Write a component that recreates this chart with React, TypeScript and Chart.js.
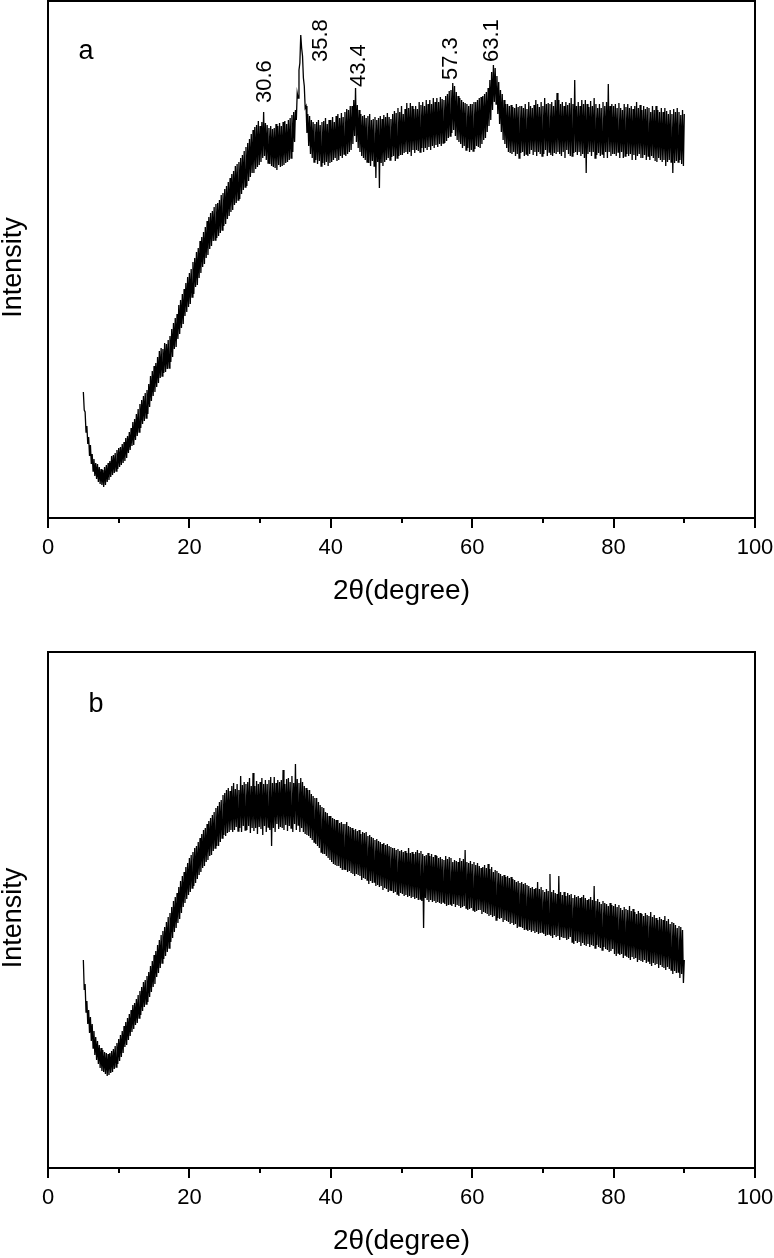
import React, { useEffect, useRef } from 'react';
import { Chart, registerables } from 'chart.js';

Chart.register(...registerables);

// 2θ grid of the scan: starts at 5°, one reading every 0.125°
const THETA_START = 5;
const THETA_STEP = 0.125;

// Panel a intensities (arbitrary units), 5° … 90°, 8 readings per degree
const intensityA = [
  126, 108, 106, 86, 92, 74, 81, 62,
  73, 54, 64, 47, 59, 42, 55, 39,
  54, 36, 51, 34, 49, 33, 48, 31,
  51, 33, 53, 36, 55, 38, 57, 41,
  62, 43, 63, 45, 65, 47, 68, 49,
  70, 51, 71, 53, 74, 55, 76, 57,
  80, 60, 82, 65, 86, 68, 90, 72,
  96, 73, 99, 78, 104, 82, 109, 86,
  114, 90, 118, 94, 122, 97, 125, 100,
  128, 104, 134, 111, 142, 117, 147, 122,
  152, 126, 155, 131, 161, 135, 167, 140,
  170, 142, 169, 145, 175, 146, 174, 149,
  178, 150, 182, 156, 189, 161, 195, 169,
  200, 171, 204, 179, 213, 184, 218, 190,
  224, 194, 229, 202, 235, 206, 241, 211,
  245, 214, 249, 221, 256, 224, 260, 231,
  266, 233, 270, 240, 277, 245, 281, 251,
  286, 254, 291, 260, 297, 263, 301, 269,
  305, 272, 307, 277, 311, 278, 314, 280,
  315, 282, 318, 285, 323, 288, 325, 292,
  329, 294, 332, 299, 336, 302, 340, 306,
  344, 308, 347, 313, 352, 315, 354, 318,
  356, 319, 360, 324, 363, 328, 367, 331,
  371, 332, 375, 337, 379, 341, 384, 345,
  388, 345, 391, 349, 393, 351, 397, 353,
  392, 356, 396, 360, 406, 362, 395, 358,
  393, 355, 390, 354, 392, 352, 389, 351,
  390, 350, 394, 348, 392, 353, 395, 351,
  392, 352, 396, 353, 397, 355, 394, 356,
  398, 358, 400, 360, 403, 366, 406, 376,
  408, 398, 425, 420, 448, 455, 483, 470,
  462, 440, 432, 410, 412, 385, 404, 372,
  402, 364, 398, 360, 396, 356, 394, 358,
  396, 354, 398, 357, 393, 352, 396, 355,
  397, 353, 400, 356, 394, 352, 398, 355,
  398, 356, 401, 358, 396, 360, 402, 357,
  404, 358, 400, 362, 405, 360, 401, 364,
  406, 362, 409, 364, 408, 366, 412, 368,
  412, 374, 418, 382, 430, 376, 413, 370,
  408, 366, 404, 362, 402, 360, 403, 358,
  400, 356, 402, 355, 404, 352, 398, 357,
  399, 352, 401, 340, 398, 356, 400, 330,
  402, 355, 399, 352, 403, 356, 401, 358,
  405, 360, 401, 358, 399, 361, 404, 362,
  407, 357, 405, 360, 410, 362, 406, 363,
  412, 363, 404, 365, 409, 366, 415, 364,
  410, 366, 415, 362, 412, 368, 409, 365,
  412, 368, 409, 367, 416, 366, 413, 370,
  416, 366, 412, 370, 418, 368, 414, 371,
  418, 368, 414, 372, 420, 370, 416, 373,
  420, 371, 416, 374, 421, 372, 419, 375,
  418, 375, 422, 377, 424, 380, 427, 382,
  428, 385, 435, 388, 432, 382, 426, 378,
  422, 376, 420, 374, 418, 370, 416, 372,
  415, 368, 414, 370, 412, 366, 414, 368,
  414, 367, 416, 369, 416, 372, 418, 371,
  420, 370, 421, 374, 422, 378, 424, 380,
  426, 386, 430, 392, 438, 398, 446, 408,
  453, 416, 450, 414, 442, 404, 436, 394,
  428, 386, 424, 378, 418, 374, 414, 370,
  414, 366, 412, 365, 413, 364, 411, 366,
  410, 362, 414, 364, 411, 360, 412, 365,
  412, 366, 410, 362, 414, 364, 409, 362,
  416, 364, 412, 368, 410, 363, 413, 366,
  418, 362, 414, 366, 411, 364, 416, 362,
  412, 364, 420, 368, 414, 362, 415, 366,
  414, 363, 416, 362, 412, 365, 418, 364,
  425, 366, 418, 364, 414, 362, 416, 366,
  412, 360, 416, 368, 413, 364, 415, 362,
  420, 362, 414, 365, 438, 366, 412, 363,
  416, 366, 412, 362, 418, 364, 414, 360,
  418, 345, 414, 364, 411, 366, 417, 362,
  412, 366, 420, 360, 414, 363, 410, 365,
  414, 362, 410, 364, 416, 360, 412, 366,
  416, 360, 434, 366, 412, 362, 414, 364,
  412, 364, 414, 362, 410, 366, 415, 360,
  410, 366, 408, 360, 414, 362, 411, 364,
  414, 362, 410, 364, 412, 358, 409, 363,
  412, 358, 416, 362, 410, 364, 413, 360,
  408, 360, 412, 363, 409, 358, 411, 362,
  410, 358, 406, 362, 412, 360, 408, 357,
  412, 356, 408, 360, 406, 358, 410, 356,
  406, 358, 410, 352, 407, 356, 404, 358,
  408, 356, 404, 345, 409, 355, 406, 357,
  410, 356, 406, 358, 403, 354, 408, 352,
  404,
];

// Panel b intensities (arbitrary units), 5° … 90°, 8 readings per degree
const intensityB = [
  208, 178, 184, 156, 167, 144, 158, 135,
  151, 127, 144, 120, 137, 113, 131, 108,
  127, 104, 123, 100, 120, 97, 118, 96,
  116, 94, 115, 92, 114, 93, 115, 95,
  117, 96, 119, 99, 122, 101, 125, 104,
  129, 107, 133, 111, 137, 115, 142, 121,
  146, 123, 150, 128, 154, 132, 158, 136,
  163, 139, 165, 143, 169, 145, 173, 150,
  177, 153, 181, 157, 186, 161, 188, 164,
  192, 166, 196, 171, 202, 176, 207, 181,
  213, 184, 217, 191, 223, 195, 228, 200,
  233, 205, 237, 209, 241, 212, 246, 216,
  251, 220, 255, 226, 261, 230, 267, 236,
  271, 240, 275, 245, 281, 249, 287, 255,
  292, 261, 296, 265, 301, 269, 305, 273,
  310, 276, 313, 280, 316, 282, 320, 285,
  322, 289, 326, 293, 330, 296, 334, 300,
  338, 302, 340, 306, 344, 308, 347, 312,
  350, 313, 353, 317, 356, 320, 360, 322,
  362, 322, 366, 326, 368, 330, 373, 333,
  375, 332, 378, 335, 380, 336, 377, 338,
  382, 336, 385, 338, 379, 341, 384, 337,
  378, 340, 392, 336, 383, 342, 386, 338,
  384, 338, 386, 342, 390, 335, 382, 340,
  395, 337, 382, 340, 387, 334, 384, 341,
  386, 339, 390, 333, 384, 342, 388, 336,
  384, 341, 388, 338, 391, 322, 385, 340,
  391, 336, 385, 344, 388, 339, 386, 341,
  388, 340, 398, 338, 384, 343, 389, 337,
  390, 342, 386, 340, 392, 336, 385, 344,
  404, 338, 389, 343, 385, 336, 390, 340,
  386, 336, 382, 334, 380, 333, 378, 332,
  378, 330, 374, 328, 372, 326, 370, 324,
  370, 322, 366, 320, 363, 316, 361, 314,
  360, 314, 356, 312, 355, 310, 352, 308,
  352, 306, 350, 304, 349, 303, 348, 302,
  348, 302, 345, 300, 346, 298, 344, 299,
  344, 298, 346, 296, 342, 297, 341, 295,
  340, 294, 338, 292, 339, 294, 337, 293,
  338, 292, 334, 288, 336, 290, 335, 289,
  336, 288, 332, 284, 333, 287, 331, 285,
  330, 286, 328, 282, 329, 283, 327, 281,
  326, 282, 324, 278, 325, 280, 323, 279,
  324, 276, 322, 278, 321, 277, 320, 275,
  320, 276, 318, 274, 319, 272, 317, 275,
  318, 274, 316, 272, 317, 273, 315, 271,
  320, 272, 315, 270, 316, 271, 314, 269,
  316, 270, 318, 268, 315, 269, 317, 267,
  314, 240, 312, 270, 313, 268, 315, 266,
  312, 268, 314, 266, 311, 267, 313, 265,
  312, 266, 310, 265, 311, 264, 309, 266,
  308, 264, 312, 262, 309, 263, 311, 264,
  310, 262, 306, 264, 308, 261, 307, 263,
  306, 262, 310, 260, 307, 261, 309, 262,
  318, 260, 306, 258, 305, 259, 307, 260,
  304, 258, 306, 256, 303, 257, 305, 258,
  302, 258, 300, 254, 301, 256, 303, 255,
  300, 254, 304, 252, 299, 253, 301, 251,
  296, 252, 298, 248, 297, 250, 295, 249,
  294, 250, 292, 246, 293, 248, 291, 247,
  292, 246, 290, 244, 291, 245, 289, 243,
  288, 244, 286, 240, 287, 242, 285, 241,
  286, 240, 284, 238, 285, 239, 283, 237,
  282, 238, 280, 236, 281, 237, 279, 235,
  280, 236, 286, 234, 279, 235, 281, 236,
  278, 234, 276, 232, 279, 233, 277, 234,
  294, 232, 276, 230, 278, 233, 275, 231,
  274, 232, 292, 228, 276, 231, 273, 230,
  276, 230, 272, 228, 275, 229, 273, 231,
  274, 226, 270, 224, 273, 227, 271, 225,
  272, 226, 270, 222, 271, 225, 273, 223,
  270, 222, 268, 224, 269, 221, 271, 223,
  268, 222, 282, 220, 267, 223, 269, 221,
  266, 220, 264, 218, 267, 221, 265, 219,
  264, 218, 262, 216, 265, 217, 263, 219,
  262, 214, 264, 212, 261, 215, 263, 213,
  260, 214, 258, 210, 261, 213, 259, 211,
  258, 210, 262, 208, 257, 211, 259, 209,
  256, 210, 254, 206, 257, 208, 255, 207,
  254, 206, 252, 208, 255, 205, 253, 207,
  252, 204, 256, 202, 251, 205, 253, 203,
  250, 204, 248, 200, 251, 203, 249, 201,
  248, 200, 252, 198, 247, 201, 249, 199,
  244, 198, 246, 194, 245, 197, 243, 195,
  240, 196, 242, 190, 241, 194, 238, 185,
  208,
];

// Axis ticks
const xMajorTicks = [0, 20, 40, 60, 80, 100];
const xMinorTicks = [10, 30, 50, 70, 90];

// Peak annotations on panel a
const peakLabelsA = ['30.6', '35.8', '43.4', '57.3', '63.1'];
const peakLabelThetaA = [30.7, 38.6, 44.0, 57.0, 62.8];
const peakLabelIntensityA = [415, 456, 431, 438, 456];

const FONT_FAMILY = '"Liberation Sans", Arial, Helvetica, sans-serif';

type Peak = { text: string; x: number; y: number };

type PanelProps = {
  values: number[];
  yMax: number;
  width: number;
  height: number;
  padTop: number;
  padRight: number;
  label: string;
  labelDx: number;
  labelDy: number;
  peaks: Peak[];
};

function makeFramePlugin(label: string, labelDx: number, labelDy: number, peaks: Peak[]) {
  return {
    id: 'xrdFrame',
    afterDraw(chart: any) {
      const { ctx, chartArea, scales } = chart;
      const { left, top, right, bottom } = chartArea;
      const x = scales.x;
      const y = scales.y;
      ctx.save();
      ctx.strokeStyle = '#000';
      ctx.lineWidth = 2;
      ctx.strokeRect(left, top, right - left, bottom - top);
      ctx.beginPath();
      xMajorTicks.forEach((v) => {
        const px = Math.round(x.getPixelForValue(v));
        ctx.moveTo(px, bottom);
        ctx.lineTo(px, bottom + 10);
      });
      xMinorTicks.forEach((v) => {
        const px = Math.round(x.getPixelForValue(v));
        ctx.moveTo(px, bottom);
        ctx.lineTo(px, bottom + 5);
      });
      ctx.stroke();

      ctx.fillStyle = '#000';
      // y-axis title
      ctx.save();
      ctx.font = `27px ${FONT_FAMILY}`;
      ctx.textAlign = 'center';
      ctx.textBaseline = 'middle';
      ctx.translate(14, (top + bottom) / 2 + 8);
      ctx.rotate(-Math.PI / 2);
      ctx.fillText('Intensity', 0, 0);
      ctx.restore();

      ctx.font = `27px ${FONT_FAMILY}`;
      ctx.textAlign = 'center';
      ctx.textBaseline = 'middle';
      ctx.fillText(label, left + labelDx, top + labelDy);

      ctx.font = `22px ${FONT_FAMILY}`;
      ctx.textAlign = 'left';
      ctx.textBaseline = 'middle';
      peaks.forEach((p) => {
        const px = x.getPixelForValue(p.x);
        const py = y.getPixelForValue(p.y);
        ctx.save();
        ctx.translate(px, py);
        ctx.rotate(-Math.PI / 2);
        ctx.fillText(p.text, 0, 0);
        ctx.restore();
      });
      ctx.restore();
    },
  };
}

function XrdPanel(props: PanelProps) {
  const ref = useRef<HTMLCanvasElement | null>(null);
  useEffect(() => {
    if (!ref.current) return;
    const points = props.values.map((v, i) => ({ x: THETA_START + i * THETA_STEP, y: v }));
    const allTicks = [...xMajorTicks, ...xMinorTicks].sort((a, b) => a - b);
    const chart = new Chart(ref.current, {
      type: 'line',
      data: {
        datasets: [
          {
            data: points,
            borderColor: '#000',
            borderWidth: 1.3,
            pointRadius: 0,
            tension: 0,
            fill: false,
          },
        ],
      },
      options: {
        animation: false,
        responsive: false,
        devicePixelRatio: 1,
        events: [],
        layout: { padding: { left: 0, right: props.padRight, top: props.padTop, bottom: 0 } },
        plugins: { legend: { display: false }, tooltip: { enabled: false } },
        scales: {
          x: {
            type: 'linear',
            min: 0,
            max: 100,
            grid: { display: false },
            border: { display: false },
            afterBuildTicks: (scale: any) => {
              scale.ticks = allTicks.map((v) => ({ value: v }));
            },
            ticks: {
              autoSkip: false,
              maxRotation: 0,
              padding: 9,
              color: '#000',
              font: { family: FONT_FAMILY, size: 22 },
              callback: (v: any) => (xMajorTicks.includes(Number(v)) ? String(v) : ''),
            },
            title: {
              display: true,
              text: '2θ(degree)',
              color: '#000',
              font: { family: FONT_FAMILY, size: 28, lineHeight: 1.2 },
              padding: { top: 0, bottom: 0 },
            },
            afterFit: (scale: any) => {
              scale.height = 90;
              scale.paddingLeft = 0;
              scale.paddingRight = 0;
            },
          },
          y: {
            type: 'linear',
            min: 0,
            max: props.yMax,
            grid: { display: false },
            border: { display: false },
            ticks: { display: false },
            title: { display: false },
            afterFit: (scale: any) => {
              scale.width = 48;
            },
          },
        },
      },
      plugins: [makeFramePlugin(props.label, props.labelDx, props.labelDy, props.peaks)],
    } as any);
    return () => chart.destroy();
  }, []);
  return (
    <canvas
      ref={ref}
      width={props.width}
      height={props.height}
      style={{ display: 'block', width: props.width, height: props.height }}
    />
  );
}

export default function App() {
  const peaksA: Peak[] = peakLabelsA.map((t, i) => ({
    text: t,
    x: peakLabelThetaA[i],
    y: peakLabelIntensityA[i],
  }));
  return (
    <div style={{ position: 'absolute', left: 0, top: 0, width: 774, height: 1258, background: '#fff' }}>
      <XrdPanel
        values={intensityA}
        yMax={517}
        width={774}
        height={608}
        padTop={1}
        padRight={19}
        label="a"
        labelDx={38}
        labelDy={51}
        peaks={peaksA}
      />
      <XrdPanel
        values={intensityB}
        yMax={516}
        width={774}
        height={650}
        padTop={44}
        padRight={19}
        label="b"
        labelDx={48}
        labelDy={53}
        peaks={[]}
      />
    </div>
  );
}
